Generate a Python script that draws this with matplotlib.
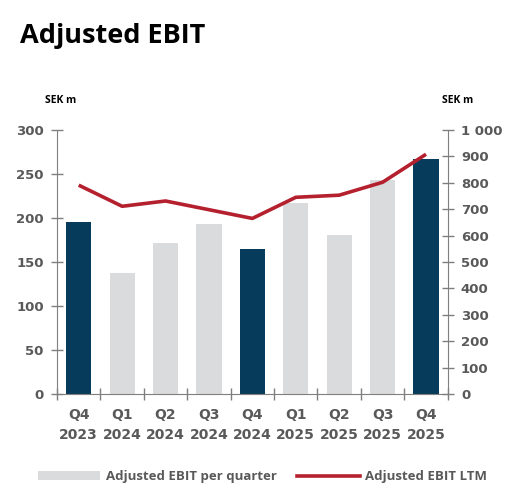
import matplotlib
matplotlib.use('Agg')
import matplotlib.pyplot as plt
from matplotlib.patches import Patch
from matplotlib.lines import Line2D

# Data
quarters = ['Q4\n2023', 'Q1\n2024', 'Q2\n2024', 'Q3\n2024', 'Q4\n2024',
            'Q1\n2025', 'Q2\n2025', 'Q3\n2025', 'Q4\n2025']
ebit_quarter = [196, 137, 172, 193, 165, 217, 181, 243, 267]
ebit_ltm = [791, 711, 731, 698, 665, 745, 753, 802, 908]
is_q4 = [True, False, False, False, True, False, False, False, True]

DARK = '#073B5C'
GRAY = '#DADBDD'
RED = '#B5202E'
TXT = '#595959'

fig = plt.figure(figsize=(5.25, 5.03), dpi=100)
ax = fig.add_axes([0.1086, 0.2167, 0.7442, 0.5249])
ax2 = ax.twinx()

x = list(range(len(quarters)))
colors = [DARK if q else GRAY for q in is_q4]
ax.bar(x, ebit_quarter, width=0.58, color=colors, zorder=2)
ax2.plot(x, ebit_ltm, color=RED, lw=2.6, solid_capstyle='butt', zorder=3)

ax.set_xlim(-0.5, len(quarters) - 0.5)
ax.set_ylim(0, 300)
ax2.set_ylim(0, 1000)
ax.set_yticks(range(0, 301, 50))
ax2.set_yticks(range(0, 1001, 100))
ax2.set_yticklabels([f'{v:,}'.replace(',', ' ') for v in range(0, 1001, 100)])

# category ticks sit between the bars
ax.set_xticks([i + 0.5 for i in range(-1, len(quarters))], minor=False)
ax.set_xticklabels([])
ax.set_xticks(x, minor=True)
ax.set_xticklabels(quarters, minor=True)
ax.tick_params(axis='x', which='major', direction='inout', length=9, width=1, color='#7f7f7f')
ax.tick_params(axis='x', which='minor', length=0, pad=10, labelsize=10, labelcolor=TXT)
for t in ax.get_xticklabels(minor=True):
    t.set_fontweight('bold')
    t.set_linespacing(1.6)

ax.tick_params(axis='y', direction='inout', length=9, width=1, color='#7f7f7f',
               labelsize=9.5, labelcolor=TXT, pad=5)
ax2.tick_params(axis='y', direction='inout', length=9, width=1, color='#7f7f7f',
                labelsize=9.5, labelcolor=TXT, pad=5)
for t in ax.get_yticklabels() + ax2.get_yticklabels():
    t.set_fontweight('bold')

for a in (ax, ax2):
    a.spines['top'].set_visible(False)
    a.spines['left'].set_color('#7f7f7f')
    a.spines['right'].set_color('#7f7f7f')
    a.spines['bottom'].set_color('#7f7f7f')
ax.spines['right'].set_visible(False)
ax2.spines['left'].set_visible(False)
ax2.spines['bottom'].set_visible(False)

fig.text(0.038, 0.915, 'Adjusted EBIT', fontsize=19.5, fontweight='bold',
         family='Open Sans', color='black', va='baseline')
fig.text(0.086, 0.796, 'SEK m', fontsize=7.5, fontweight='bold', family='Open Sans', va='baseline')
fig.text(0.842, 0.796, 'SEK m', fontsize=7.5, fontweight='bold', family='Open Sans', va='baseline')

handles = [Patch(facecolor=GRAY, edgecolor='none'),
           Line2D([0], [0], color=RED, lw=2.6)]
leg = fig.legend(handles, ['Adjusted EBIT per quarter', 'Adjusted EBIT LTM'],
                 loc='center', bbox_to_anchor=(0.5, 0.052), ncol=2, frameon=False,
                 handlelength=4.7, handleheight=0.7, columnspacing=1.6, handletextpad=0.45,
                 prop={'family': 'Open Sans', 'weight': 'bold', 'size': 9.5})
for t in leg.get_texts():
    t.set_color(TXT)

fig.savefig('out.png', dpi=100)
